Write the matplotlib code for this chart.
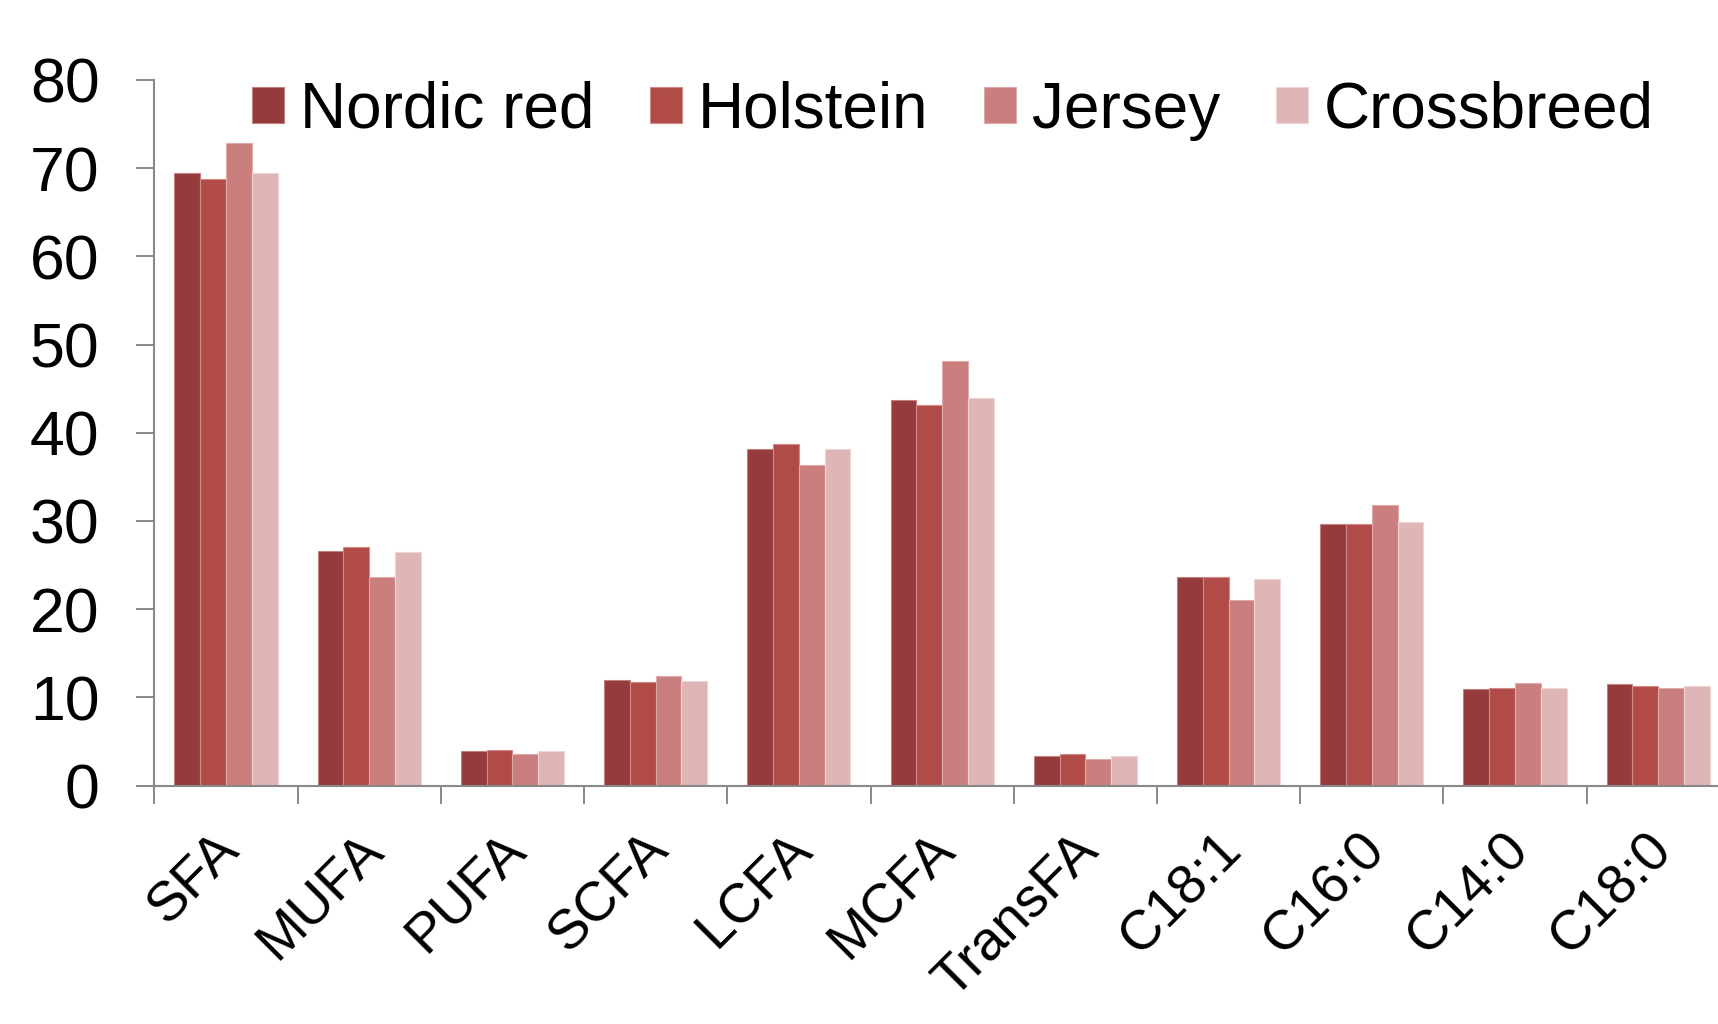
import matplotlib
matplotlib.use("Agg")
import matplotlib.pyplot as plt
import matplotlib.transforms as mtransforms
import numpy as np

categories = ["SFA", "MUFA", "PUFA", "SCFA", "LCFA", "MCFA", "TransFA",
              "C18:1", "C16:0", "C14:0", "C18:0"]
series_names = ["Nordic red", "Holstein", "Jersey", "Crossbreed"]
nordic_red = [69.4, 26.6, 3.9, 12.0, 38.2, 43.7, 3.4, 23.6, 29.7, 11.0, 11.5]
holstein   = [68.8, 27.1, 4.0, 11.7, 38.7, 43.1, 3.6, 23.7, 29.7, 11.1, 11.3]
jersey     = [72.8, 23.6, 3.6, 12.4, 36.3, 48.1, 3.0, 21.0, 31.8, 11.6, 11.1]
crossbreed = [69.5, 26.5, 3.9, 11.9, 38.2, 43.9, 3.4, 23.4, 29.9, 11.1, 11.3]
y_ticks = [0, 10, 20, 30, 40, 50, 60, 70, 80]

colors = ["#963B3B", "#B14B48", "#CA7E7D", "#DFB5B5"]
edges = ["#C08080", "#D08A88", "#E0AAAA", "#F0D5D5"]

plt.rcParams['font.family'] = ['Liberation Sans', 'DejaVu Sans']

fig = plt.figure(figsize=(17.18, 10.24), dpi=100)
ax = fig.add_axes([0.0899, 0.2328, 1.0069 - 0.0899, 0.9219 - 0.2328])

data = [nordic_red, holstein, jersey, crossbreed]
x = np.arange(len(categories))
w = 0.18
for i, (vals, name) in enumerate(zip(data, series_names)):
    ax.bar(x + (i - 1.5) * w, vals, width=w, color=colors[i], edgecolor=edges[i],
           linewidth=0.8, label=name, zorder=2)

ax.set_xlim(-0.5, 10.5)
ax.set_ylim(0, 80)
ax.set_yticks(y_ticks)
ax.set_yticklabels([str(v) for v in y_ticks])

ax.set_xticks(np.arange(-0.5, 10.5, 1.0))
ax.set_xticklabels([])
ax.set_xticks(x, minor=True)
ax.set_xticklabels(categories, minor=True, rotation=45, ha='right',
                   rotation_mode='anchor', fontsize=40)
ax.tick_params(axis='x', which='minor', length=0, pad=22)
ax.tick_params(axis='x', which='major', length=13, width=1.4, color='#888888')
ax.tick_params(axis='y', length=13, width=1.4, color='#888888', labelsize=45, pad=26.5)

offset = mtransforms.ScaledTranslation(-13 / 100, -7 / 100, fig.dpi_scale_trans)
for lab in ax.get_xticklabels(minor=True):
    lab.set_transform(lab.get_transform() + offset)

for s in ['top', 'right']:
    ax.spines[s].set_visible(False)
for s in ['left', 'bottom']:
    ax.spines[s].set_color('#888888')
    ax.spines[s].set_linewidth(1.5)

leg = fig.legend(loc='center left', bbox_to_anchor=(0.1467, 0.892), ncol=4,
                 frameon=False, fontsize=46, handlelength=0.5, handleheight=0.5,
                 handletextpad=0.25, columnspacing=0.87, borderaxespad=0, borderpad=0)

fig.savefig("out.png", dpi=100)
